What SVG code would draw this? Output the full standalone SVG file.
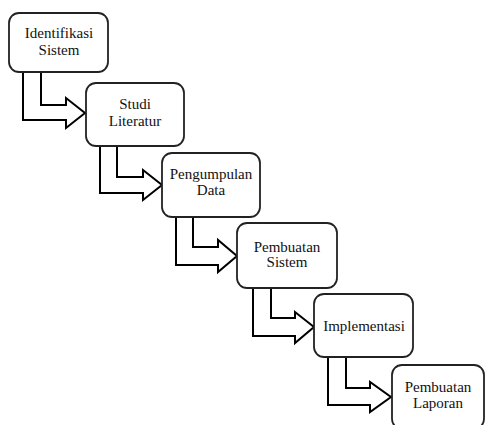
<svg xmlns="http://www.w3.org/2000/svg" width="486" height="425" viewBox="0 0 486 425">
<style>
.box{fill:#fff;stroke:#222;stroke-width:1.8}
.arr{fill:none;stroke:#000;stroke-width:2;stroke-linejoin:miter}
text{font-family:"Liberation Serif","Times New Roman",serif;font-size:15px;fill:#111;text-anchor:middle}
</style>
<rect width="486" height="425" fill="#fff"/>
<g id="connectors">
<path class="arr" d="M23,72 V120 H66 V128 L85,113 L66,98 V105 H41 V72"/>
<path class="arr" d="M100,146 V193 H143 V200 L162,185 L143,170 V177 H117 V146"/>
<path class="arr" d="M176,217 V265 H218 V272 L237,256 L218,240 V247 H193 V217"/>
<path class="arr" d="M253,288 V336 H295 V343 L314,327 L295,312 V318 H271 V288"/>
<path class="arr" d="M328,357 V405 H370 V412 L391,397 L370,382 V388 H346 V357"/>
</g>
<g id="node1">
<rect class="box" x="9" y="13" width="99" height="59" rx="10"/>
<text x="59" y="38">Identifikasi</text>
<text x="59" y="55">Sistem</text>
</g>
<g id="node2">
<rect class="box" x="86" y="83" width="98" height="63" rx="10"/>
<text x="135" y="109">Studi</text>
<text x="135" y="126">Literatur</text>
</g>
<g id="node3">
<rect class="box" x="162" y="153" width="98" height="64" rx="10"/>
<text x="211" y="179">Pengumpulan</text>
<text x="211" y="195">Data</text>
</g>
<g id="node4">
<rect class="box" x="237" y="223" width="100" height="65" rx="10"/>
<text x="287" y="252">Pembuatan</text>
<text x="287" y="267">Sistem</text>
</g>
<g id="node5">
<rect class="box" x="314" y="294" width="99" height="63" rx="10"/>
<text x="364" y="331">Implementasi</text>
</g>
<g id="node6">
<rect class="box" x="392" y="365" width="92" height="64" rx="10"/>
<text x="438" y="392">Pembuatan</text>
<text x="438" y="408">Laporan</text>
</g>
</svg>
